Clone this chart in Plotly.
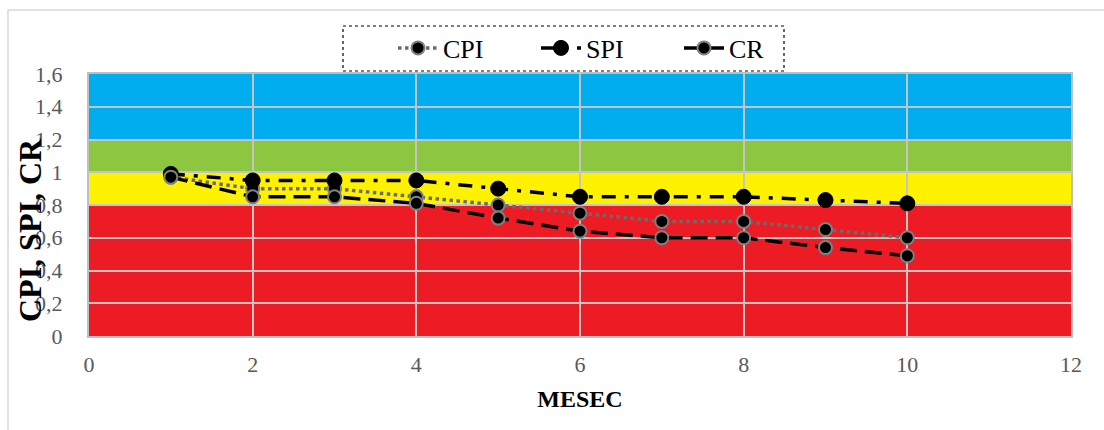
import plotly.graph_objects as go

# Month index and performance indices
mesec = [1, 2, 3, 4, 5, 6, 7, 8, 9, 10]
cpi = [0.97, 0.90, 0.90, 0.85, 0.80, 0.75, 0.70, 0.70, 0.65, 0.60]
spi = [0.99, 0.95, 0.95, 0.95, 0.90, 0.85, 0.85, 0.85, 0.83, 0.81]
cr = [0.97, 0.85, 0.85, 0.81, 0.72, 0.64, 0.60, 0.60, 0.54, 0.49]

# Performance zones (lower, upper, colour)
zone_low = [0.0, 0.8, 1.0, 1.2]
zone_high = [0.8, 1.0, 1.2, 1.6]
zone_color = ["#ED1C24", "#FFF200", "#8DC63F", "#00AEEF"]

x_range = [0, 12]
y_range = [0, 1.6]

serif = "Liberation Serif"

# plot area geometry in pixels (used for paper-coordinate placement)
L, R, T, B = 89, 1071, 74, 336
PW, PH = R - L, B - T


def px_x(p):
    return (p - L) / PW


def px_y(p):
    return (B - p) / PH


fig = go.Figure()

fig.add_trace(go.Scatter(
    x=mesec, y=cpi, name="CPI", mode="lines+markers",
    line=dict(color="#6b6b6b", width=3.5, dash="dot"),
    marker=dict(size=13, color="black", line=dict(color="#808080", width=2)),
))
fig.add_trace(go.Scatter(
    x=mesec, y=spi, name="SPI", mode="lines+markers",
    line=dict(color="black", width=3.5, dash="14px,9px,4px,9px"),
    marker=dict(size=15, color="black", line=dict(color="black", width=1)),
))
fig.add_trace(go.Scatter(
    x=mesec, y=cr, name="CR", mode="lines+markers",
    line=dict(color="black", width=3.5, dash="17px,8px"),
    marker=dict(size=13, color="black", line=dict(color="#808080", width=2)),
))

shapes = []
for lo, hi, col in zip(zone_low, zone_high, zone_color):
    shapes.append(dict(
        type="rect", xref="x", yref="y", x0=x_range[0], x1=x_range[1],
        y0=lo, y1=hi, fillcolor=col, line=dict(width=0), layer="below",
    ))

# outer chart frame
shapes.append(dict(
    type="rect", xref="paper", yref="paper",
    x0=px_x(8), x1=px_x(1110), y0=px_y(440), y1=px_y(10),
    line=dict(color="#d9d9d9", width=1.5), fillcolor="rgba(0,0,0,0)", layer="below",
))
# dotted legend frame
shapes.append(dict(
    type="rect", xref="paper", yref="paper",
    x0=px_x(343), x1=px_x(784), y0=px_y(71), y1=px_y(26),
    line=dict(color="black", width=1.2, dash="dot"), fillcolor="white", layer="above",
))

fig.update_layout(
    width=1104, height=430,
    margin=dict(l=L, r=1104 - R, t=T, b=430 - B),
    paper_bgcolor="white", plot_bgcolor="white",
    separators=",.",
    font=dict(family=serif, color="#595959", size=22),
    shapes=shapes,
    showlegend=True,
    legend=dict(
        orientation="h", x=px_x(393), xanchor="left", y=px_y(48), yanchor="middle",
        bgcolor="rgba(0,0,0,0)", font=dict(family=serif, size=26, color="black"),
        entrywidth=88, entrywidthmode="pixels", itemwidth=40,
    ),
    xaxis=dict(
        range=x_range, dtick=2, tick0=0, showgrid=True, gridcolor="#c4c4c4", gridwidth=2,
        zeroline=False, showline=True, linecolor="#bfbfbf", linewidth=2, mirror=True,
        ticks="", ticklabelstandoff=8,
        tickfont=dict(family=serif, size=22, color="#595959"),
        title=dict(text="<b>MESEC</b>", font=dict(family=serif, size=24, color="black"), standoff=14),
    ),
    yaxis=dict(
        range=y_range, dtick=0.2, tick0=0, showgrid=True, gridcolor="#c4c4c4", gridwidth=2,
        zeroline=False, showline=True, linecolor="#bfbfbf", linewidth=2, mirror=True,
        ticks="", ticklabelstandoff=20,
        tickfont=dict(family=serif, size=22, color="#595959"),
    ),
    annotations=[dict(
        text="<b>CPI, SPI, CR</b>", xref="paper", yref="paper",
        x=px_x(30), y=px_y(230), xanchor="center", yanchor="middle",
        textangle=-90, showarrow=False,
        font=dict(family=serif, size=32, color="black"),
    )],
)

fig.write_html("out.html")
